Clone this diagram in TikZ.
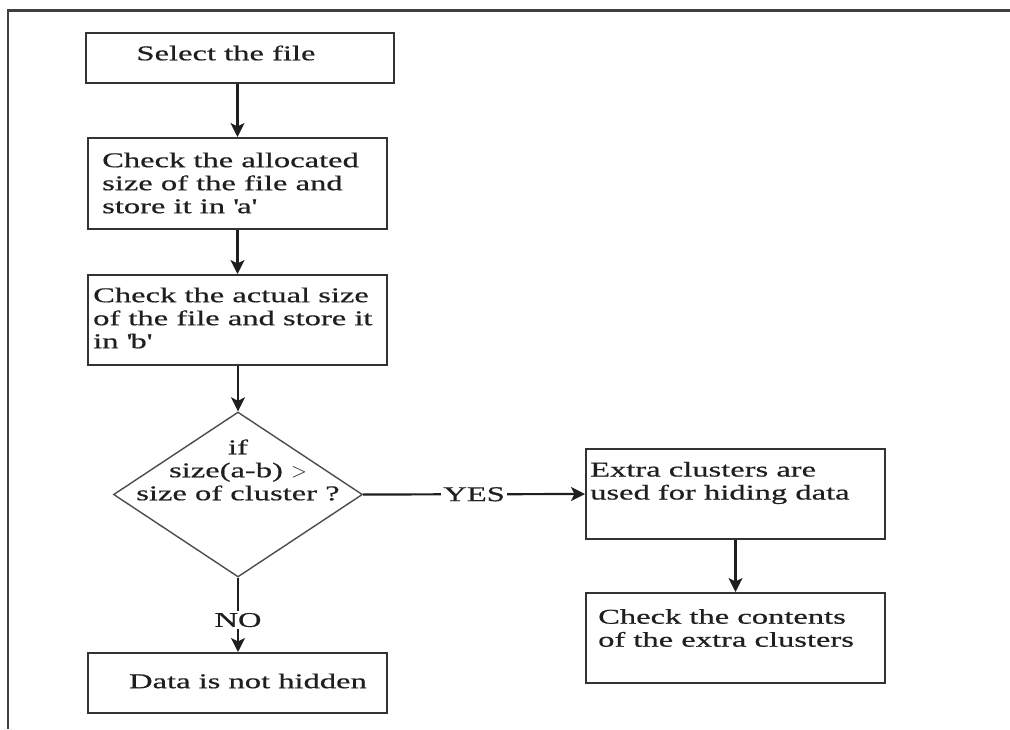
\documentclass[tikz,border=0pt]{standalone}
\usepackage{fontspec}
\setmainfont[FakeStretch=1.55,FakeBold=0.6]{Liberation Serif}
\usetikzlibrary{shapes.geometric,arrows.meta}

\begin{document}
\begin{tikzpicture}[x=1pt,y=-1pt,
  box/.style={draw=black!80,line width=2pt,minimum width=299pt,
    minimum height=90pt,inner sep=0pt},
  decision/.style={diamond,draw=black!70,line width=1.4pt,inner sep=0pt,
    minimum width=249pt,minimum height=165pt},
  txt/.style={font=\fontsize{21}{23}\selectfont,inner sep=0pt,align=left,
    text=black!88},
  lab/.style={txt,fill=white,inner xsep=2pt,inner ysep=2pt},
  flow/.style={draw=black!88,line width=2.2pt,
    -{Stealth[length=14pt,width=14pt,inset=3.5pt]}},
  frame/.style={draw=black!75,line width=2.2pt}
]
\useasboundingbox (0,0) rectangle (1010,729);

% page frame (top and left edges)
\coordinate (fr) at (1010,10.5);
\coordinate (fc) at (8,10.5);
\coordinate (fb) at (8,729);
\draw[frame] (fr) -- (fc) -- (fb);

% boxes
\node[box,minimum width=308pt,minimum height=50pt] (b1) at (240,58) {};
\node[box,minimum height=91pt] (b2) at (237.5,183.5) {};
\node[box] (b3) at (237.5,320) {};
\node[decision] (d) at (238,494.5) {};
\node[box,minimum height=60pt] (b4) at (237.5,683) {};
\node[box] (b5) at (735.5,494) {};
\node[box] (b6) at (735.5,638) {};

% texts
\node[txt] (t1) at (226,53) {Select the file};
\node[txt,anchor=west] (t2) at (102,183) {Check the allocated\\size of the file and\\store it in \textquotesingle a\textquotesingle};
\node[txt,anchor=west] (t3) at (93,318) {Check the actual size\\of the file and store it\\in \textquotesingle b\textquotesingle};
\node[txt,align=center] (td) at (238,470) {if\\size(a-b) $>$\\size of cluster ?};
\node[txt] (t4) at (248,681) {Data is not hidden};
\node[txt,anchor=west] (t5) at (590,483) {Extra clusters are\\used for hiding data};
\node[txt,anchor=west] (t6) at (598,628) {Check the contents\\of the extra clusters};

% connectors
\draw[flow] (b1.south -| b2.north) -- (b2.north);
\draw[flow] (b2.south) -- (b3.north);
\draw[flow] (b3.south -| d.north) -- (d.north);
\draw[flow] (d.south) -- node[lab,pos=0.57] {NO} (b4.north -| d.south);
\draw[flow] (d.east) -- node[lab,pos=0.5] {YES} (b5.west);
\draw[flow] (b5.south) -- (b6.north);
\end{tikzpicture}
\end{document}
